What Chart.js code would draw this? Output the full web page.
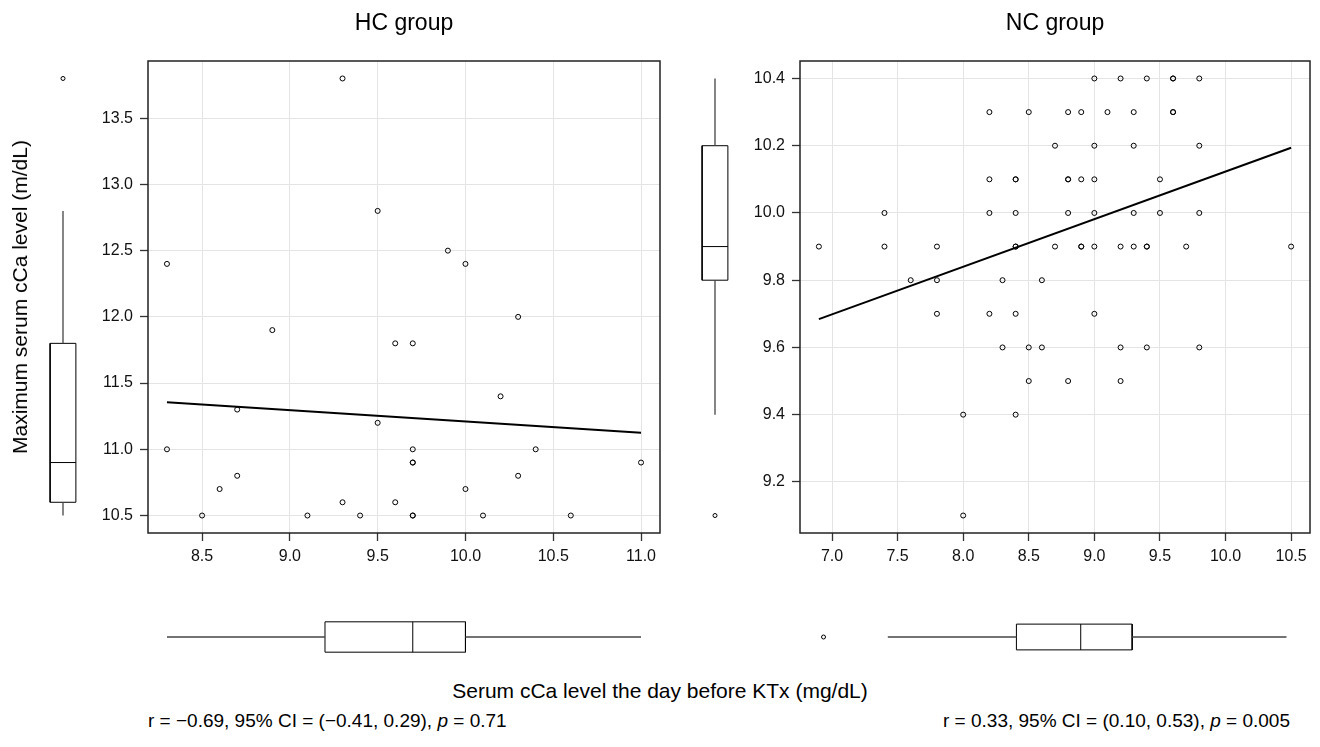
<!DOCTYPE html>
<html>
<head>
<meta charset="utf-8">
<script src="https://cdn.jsdelivr.net/npm/chart.js@4.4.1/dist/chart.umd.min.js"></script>
<style>
  body { margin: 0; background: #fff; font-family: "Liberation Sans", Arial, sans-serif; }
  #wrap { position: relative; width: 1320px; height: 747px; background: #fff; }
  canvas { position: absolute; }
  .txt { position: absolute; color: #000; white-space: nowrap; }
</style>
</head>
<body>
<div id="wrap">
  <canvas id="hc" width="600" height="590" style="left:70px;top:0px"></canvas>
  <canvas id="nc" width="580" height="590" style="left:740px;top:0px"></canvas>
  <canvas id="hcBoxY" width="66" height="590" style="left:30px;top:0px"></canvas>
  <canvas id="ncBoxY" width="66" height="590" style="left:682px;top:0px"></canvas>
  <canvas id="hcBoxX" width="512" height="66" style="left:148px;top:604px"></canvas>
  <canvas id="ncBoxX" width="510" height="66" style="left:800px;top:604px"></canvas>

  <div class="txt" style="left:404px;top:22px;transform:translate(-50%,-50%);font-size:23px">HC group</div>
  <div class="txt" style="left:1055px;top:22px;transform:translate(-50%,-50%);font-size:23px">NC group</div>
  <div class="txt" style="left:20px;top:297px;transform:translate(-50%,-50%) rotate(-90deg);font-size:21px">Maximum serum cCa level (m/dL)</div>
  <div class="txt" style="left:660px;top:691px;transform:translate(-50%,-50%);font-size:21px">Serum cCa level the day before KTx (mg/dL)</div>
  <div class="txt" style="left:148px;top:721px;transform:translateY(-50%);font-size:19px">r = −0.69, 95% CI = (−0.41, 0.29), <i>p</i> = 0.71</div>
  <div class="txt" style="right:30px;top:721px;transform:translateY(-50%);font-size:19px">r = 0.33, 95% CI = (0.10, 0.53), <i>p</i> = 0.005</div>
</div>
<script>
// HC group: serum cCa the day before KTx (x) vs maximum serum cCa (y)
const HC_X = [8.3, 9.3, 9.5, 9.9, 10.0, 10.3, 8.9, 9.6, 9.7, 10.2, 8.7, 9.5, 8.3, 9.7, 10.4, 9.7,
              9.7, 11.0, 10.3, 8.7, 8.6, 10.0, 9.3, 9.6, 8.5, 9.1, 9.4, 9.7, 9.7, 10.1, 10.6];
const HC_Y = [12.4, 13.8, 12.8, 12.5, 12.4, 12.0, 11.9, 11.8, 11.8, 11.4, 11.3, 11.2, 11.0, 11.0, 11.0, 10.9,
              10.9, 10.9, 10.8, 10.8, 10.7, 10.7, 10.6, 10.6, 10.5, 10.5, 10.5, 10.5, 10.5, 10.5, 10.5];

// NC group, listed row by row from the top of the panel
const NC_X = [9.0, 9.2, 9.4, 9.6, 9.6, 9.8,
              8.2, 8.5, 8.8, 8.9, 9.1, 9.3, 9.6, 9.6,
              8.7, 9.0, 9.3, 9.8,
              8.2, 8.4, 8.4, 8.8, 8.8, 8.9, 9.0, 9.5,
              7.4, 8.2, 8.4, 8.8, 9.0, 9.3, 9.5, 9.8,
              6.9, 7.4, 7.8, 8.4, 8.4, 8.7, 8.9, 8.9, 9.0, 9.2, 9.3, 9.4, 9.4, 9.7, 10.5,
              7.6, 7.8, 8.3, 8.6,
              7.8, 8.2, 8.4, 9.0,
              8.3, 8.5, 8.6, 9.2, 9.4, 9.8,
              8.5, 8.8, 9.2,
              8.0, 8.4,
              8.0];
const NC_Y = [10.4, 10.4, 10.4, 10.4, 10.4, 10.4,
              10.3, 10.3, 10.3, 10.3, 10.3, 10.3, 10.3, 10.3,
              10.2, 10.2, 10.2, 10.2,
              10.1, 10.1, 10.1, 10.1, 10.1, 10.1, 10.1, 10.1,
              10.0, 10.0, 10.0, 10.0, 10.0, 10.0, 10.0, 10.0,
              9.9, 9.9, 9.9, 9.9, 9.9, 9.9, 9.9, 9.9, 9.9, 9.9, 9.9, 9.9, 9.9, 9.9, 9.9,
              9.8, 9.8, 9.8, 9.8,
              9.7, 9.7, 9.7, 9.7,
              9.6, 9.6, 9.6, 9.6, 9.6, 9.6,
              9.5, 9.5, 9.5,
              9.4, 9.4,
              9.1];

const HC_X_TICKS = [8.5, 9.0, 9.5, 10.0, 10.5, 11.0];
const HC_Y_TICKS = [10.5, 11.0, 11.5, 12.0, 12.5, 13.0, 13.5];
const NC_X_TICKS = [7.0, 7.5, 8.0, 8.5, 9.0, 9.5, 10.0, 10.5];
const NC_Y_TICKS = [9.2, 9.4, 9.6, 9.8, 10.0, 10.2, 10.4];

const FONT = "'Liberation Sans', Arial, sans-serif";

// axis range like R: data range widened by 4% on each side
function rng(v) {
  const lo = Math.min(...v), hi = Math.max(...v), d = (hi - lo) * 0.04;
  return { min: lo - d, max: hi + d };
}

function fit(xs, ys) {
  const n = xs.length;
  const mx = xs.reduce((a, b) => a + b, 0) / n;
  const my = ys.reduce((a, b) => a + b, 0) / n;
  let sxy = 0, sxx = 0;
  for (let i = 0; i < n; i++) { sxy += (xs[i] - mx) * (ys[i] - my); sxx += (xs[i] - mx) ** 2; }
  const b = sxy / sxx, a = my - b * mx;
  const lo = Math.min(...xs), hi = Math.max(...xs);
  return [{ x: lo, y: a + b * lo }, { x: hi, y: a + b * hi }];
}

// Tukey hinges + 1.5 IQR whiskers, same as R boxplot()
function boxStats(v) {
  const s = [...v].sort((a, b) => a - b), n = s.length;
  const n4 = Math.floor((n + 3) / 2) / 2;
  const q = [1, n4, (n + 1) / 2, n + 1 - n4, n].map(i => 0.5 * (s[Math.floor(i) - 1] + s[Math.ceil(i) - 1]));
  const iqr = q[3] - q[1], lf = q[1] - 1.5 * iqr - 1e-9, hf = q[3] + 1.5 * iqr + 1e-9;
  const inside = s.filter(x => x >= lf && x <= hf);
  return { lo: inside[0], q1: q[1], med: q[2], q3: q[3], hi: inside[inside.length - 1], out: s.filter(x => x < lf || x > hf) };
}

const framePlugin = {
  id: 'frame',
  afterDraw(chart) {
    const a = chart.chartArea, c = chart.ctx;
    c.save();
    c.strokeStyle = '#222';
    c.lineWidth = 1.5;
    c.strokeRect(a.left, a.top, a.right - a.left, a.bottom - a.top);
    c.restore();
  }
};

function axis(r, ticks, size, vertical) {
  return {
    type: 'linear',
    min: r.min,
    max: r.max,
    afterBuildTicks: s => { s.ticks = ticks.map(v => ({ value: v })); },
    afterFit: s => { if (vertical) s.width = size; else s.height = size; },
    border: { display: false },
    grid: { color: '#e4e4e4', lineWidth: 1, tickColor: '#333', tickLength: 8, tickWidth: 1.3 },
    ticks: {
      autoSkip: false, maxRotation: 0, padding: vertical ? 7 : 6,
      color: '#111', font: { family: FONT, size: 16 },
      callback: v => v.toFixed(1)
    }
  };
}

function scatterChart(id, xs, ys, xTicks, yTicks, yAxisW, padRight) {
  const pts = xs.map((x, i) => ({ x: x, y: ys[i] }));
  return new Chart(document.getElementById(id), {
    type: 'scatter',
    data: {
      datasets: [
        { data: pts, pointRadius: 2.5, pointBorderWidth: 1, borderColor: '#000', backgroundColor: 'rgba(0,0,0,0)' },
        { data: fit(xs, ys), showLine: true, pointRadius: 0, borderColor: '#000', borderWidth: 2 }
      ]
    },
    options: {
      responsive: false, animation: false, events: [],
      layout: { padding: { top: 61, right: padRight, left: 0, bottom: 0 } },
      plugins: { legend: { display: false }, tooltip: { enabled: false } },
      scales: {
        x: axis(rng(xs), xTicks, 57, false),
        y: axis(rng(ys), yTicks, yAxisW, true)
      }
    },
    plugins: [framePlugin]
  });
}

scatterChart('hc', HC_X, HC_Y, HC_X_TICKS, HC_Y_TICKS, 78, 10);
scatterChart('nc', NC_X, NC_Y, NC_X_TICKS, NC_Y_TICKS, 60, 10);

// marginal box plots; vertical ones share the panel's y range, horizontal ones its x range
function boxChart(id, values, vertical, pad) {
  const b = boxStats(values);
  const A = 0.27, B = 0.73, M = 0.5;
  const P = (u, v) => vertical ? { x: u, y: v } : { x: v, y: u };
  const line = (d, color, w) => ({ data: d, showLine: true, pointRadius: 0, borderColor: color, borderWidth: w });
  const r = rng(values);
  const unit = { type: 'linear', min: 0, max: 1, display: false };
  const val = { type: 'linear', min: r.min, max: r.max, display: false };
  new Chart(document.getElementById(id), {
    type: 'scatter',
    data: {
      datasets: [
        line([P(M, b.lo), P(M, b.q1)], '#444', 1.3),
        line([P(M, b.q3), P(M, b.hi)], '#444', 1.3),
        line([P(A, b.q1), P(B, b.q1), P(B, b.q3), P(A, b.q3), P(A, b.q1)], '#000', 1),
        line([P(A, b.med), P(B, b.med)], '#000', 1),
        { data: b.out.map(v => P(M, v)), pointRadius: 2, pointBorderWidth: 1, borderColor: '#000', backgroundColor: 'rgba(0,0,0,0)' }
      ]
    },
    options: {
      responsive: false, animation: false, events: [],
      layout: { padding: pad },
      plugins: { legend: { display: false }, tooltip: { enabled: false } },
      scales: vertical ? { x: unit, y: val } : { x: val, y: unit }
    }
  });
}

boxChart('hcBoxY', HC_Y, true, { top: 61, bottom: 57, left: 0, right: 0 });
boxChart('ncBoxY', NC_Y, true, { top: 61, bottom: 57, left: 0, right: 0 });
boxChart('hcBoxX', HC_X, false, 0);
boxChart('ncBoxX', NC_X, false, 0);
</script>
</body>
</html>
